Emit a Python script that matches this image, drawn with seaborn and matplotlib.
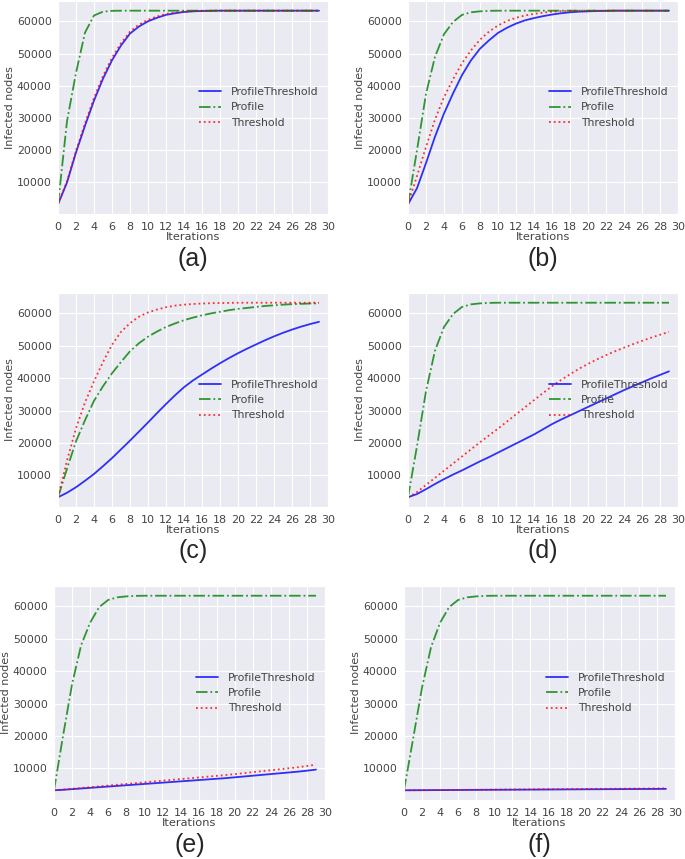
import numpy as np
import pandas as pd
import matplotlib
matplotlib.use('Agg')
import matplotlib.pyplot as plt
import seaborn as sns

# Iterations 0..29 for every panel
iterations = list(range(30))

# (a)
a_profile_threshold = [3200, 10000, 19300, 27600, 35400, 42200, 47900, 52500, 56200, 58400,
                       60000, 61100, 62000, 62500, 62900, 63100, 63200, 63250, 63300, 63300,
                       63300, 63300, 63300, 63300, 63300, 63300, 63300, 63300, 63300, 63300]
a_profile = [3200, 29000, 44000, 56500, 61800, 63000, 63250, 63300, 63300, 63300,
             63300, 63300, 63300, 63300, 63300, 63300, 63300, 63300, 63300, 63300,
             63300, 63300, 63300, 63300, 63300, 63300, 63300, 63300, 63300, 63300]
a_threshold = [3200, 10300, 19800, 28300, 36200, 43000, 48700, 53200, 56800, 59000,
               60500, 61500, 62300, 62700, 63000, 63150, 63250, 63300, 63300, 63300,
               63300, 63300, 63300, 63300, 63300, 63300, 63300, 63300, 63300, 63300]

# (b)
b_profile_threshold = [3200, 8200, 16000, 24200, 31400, 37600, 43300, 47900, 51500, 54100,
                       56400, 58000, 59300, 60300, 61000, 61600, 62100, 62500, 62800, 63000,
                       63100, 63200, 63250, 63300, 63300, 63300, 63300, 63300, 63300, 63300]
b_profile = [3200, 20000, 37500, 49000, 56000, 59800, 62000, 62800, 63100, 63250,
             63300, 63300, 63300, 63300, 63300, 63300, 63300, 63300, 63300, 63300,
             63300, 63300, 63300, 63300, 63300, 63300, 63300, 63300, 63300, 63300]
b_threshold = [3200, 12000, 21000, 29500, 36500, 42000, 47000, 51000, 54300, 56800,
               58700, 60100, 61100, 61800, 62300, 62700, 63000, 63150, 63250, 63300,
               63300, 63300, 63300, 63300, 63300, 63300, 63300, 63300, 63300, 63300]

# (c)
c_profile_threshold = [3200, 4600, 6300, 8300, 10400, 12800, 15300, 18000, 20700, 23500,
                       26300, 29200, 32000, 34700, 37200, 39300, 41100, 42900, 44600, 46200,
                       47700, 49100, 50400, 51700, 52900, 54000, 55000, 55900, 56700, 57400]
c_profile = [3200, 12000, 20500, 27000, 33000, 37500, 41500, 45000, 48300, 50800,
             52800, 54400, 55800, 56900, 57900, 58700, 59400, 60000, 60500, 61000,
             61400, 61700, 62000, 62300, 62500, 62700, 62850, 62950, 63050, 63100]
c_threshold = [3200, 14500, 24500, 32500, 39000, 45000, 50300, 54300, 57000, 59000,
               60300, 61200, 61900, 62400, 62700, 62900, 63050, 63150, 63200, 63250,
               63300, 63300, 63300, 63300, 63300, 63300, 63300, 63300, 63300, 63300]

# (d)
d_profile_threshold = [3200, 4200, 5700, 7300, 8800, 10200, 11500, 12900, 14300, 15600,
                       17000, 18400, 19800, 21200, 22600, 24200, 25800, 27200, 28500, 29800,
                       31100, 32400, 33700, 35000, 36300, 37500, 38700, 39900, 41000, 42100]
d_profile = [3200, 19000, 36000, 48500, 55800, 59800, 62000, 62800, 63100, 63250,
             63300, 63300, 63300, 63300, 63300, 63300, 63300, 63300, 63300, 63300,
             63300, 63300, 63300, 63300, 63300, 63300, 63300, 63300, 63300, 63300]
d_threshold = [3200, 4800, 7000, 9200, 11400, 13600, 15800, 18000, 20200, 22300,
               24400, 26600, 28800, 31000, 33200, 35400, 37500, 39400, 41200, 42900,
               44400, 45800, 47100, 48300, 49400, 50500, 51500, 52500, 53400, 54300]

# (e)
e_profile_threshold = [3200, 3350, 3550, 3750, 3950, 4150, 4350, 4550, 4750, 4950,
                       5150, 5350, 5550, 5750, 5950, 6150, 6350, 6550, 6750, 6950,
                       7200, 7450, 7700, 7950, 8200, 8450, 8700, 8950, 9250, 9600]
e_profile = [3200, 20000, 36000, 48000, 55000, 59800, 62000, 62800, 63100, 63250,
             63300, 63300, 63300, 63300, 63300, 63300, 63300, 63300, 63300, 63300,
             63300, 63300, 63300, 63300, 63300, 63300, 63300, 63300, 63300, 63300]
e_threshold = [3200, 3400, 3650, 3900, 4150, 4400, 4650, 4900, 5150, 5400,
               5650, 5900, 6150, 6400, 6650, 6900, 7150, 7400, 7650, 7900,
               8200, 8500, 8800, 9100, 9400, 9700, 10000, 10300, 10700, 11100]

# (f)
f_profile_threshold = [3200, 3215, 3230, 3245, 3260, 3275, 3290, 3305, 3320, 3335,
                       3350, 3365, 3380, 3395, 3410, 3425, 3440, 3455, 3470, 3485,
                       3500, 3515, 3530, 3545, 3560, 3575, 3590, 3605, 3620, 3635]
f_profile = [3200, 19000, 35000, 47500, 55000, 59800, 62000, 62800, 63100, 63250,
             63300, 63300, 63300, 63300, 63300, 63300, 63300, 63300, 63300, 63300,
             63300, 63300, 63300, 63300, 63300, 63300, 63300, 63300, 63300, 63300]
f_threshold = [3200, 3220, 3240, 3260, 3280, 3300, 3320, 3340, 3360, 3380,
               3400, 3420, 3440, 3460, 3480, 3500, 3520, 3540, 3560, 3580,
               3600, 3620, 3640, 3660, 3680, 3700, 3720, 3740, 3760, 3780]

panel_labels = ['(a)', '(b)', '(c)', '(d)', '(e)', '(f)']
panels = [
    (a_profile_threshold, a_profile, a_threshold),
    (b_profile_threshold, b_profile, b_threshold),
    (c_profile_threshold, c_profile, c_threshold),
    (d_profile_threshold, d_profile, d_threshold),
    (e_profile_threshold, e_profile, e_threshold),
    (f_profile_threshold, f_profile, f_threshold),
]
series_names = ['ProfileThreshold', 'Profile', 'Threshold']
series_colors = ['blue', 'green', 'red']
series_styles = ['-', '-.', ':']

sns.set_style('darkgrid')
plt.rcParams['font.family'] = ['DejaVu Sans']

fig = plt.figure(figsize=(6.85, 8.59), dpi=100)
W, H = 685.0, 859.0

# axes boxes in pixels: left, top, right, bottom
boxes = [
    (58, 1, 328, 214), (408, 1, 678, 214),
    (58, 293, 328, 507), (408, 293, 678, 507),
    (54, 586, 325, 800), (404, 586, 675, 800),
]
label_y = [259, 259, 551, 551, 845, 845]

for i, (box, data) in enumerate(zip(boxes, panels)):
    l, t, r, b = box
    ax = fig.add_axes([l / W, 1 - b / H, (r - l) / W, (b - t) / H])
    for vals, name, col, ls in zip(data, series_names, series_colors, series_styles):
        sns.lineplot(x=iterations, y=vals, ax=ax, color=col, linestyle=ls,
                     linewidth=1.3, alpha=0.8, label=name)
    ax.set_xlim(0, 30)
    ax.set_xticks(range(0, 31, 2))
    ax.set_xlabel('Iterations', fontsize=8.2, color='#444444', labelpad=0.5)
    ax.set_ylabel('Infected nodes', fontsize=8, color='#444444', labelpad=1.5)
    ax.tick_params(axis='x', labelsize=8, colors='#444444', pad=2)
    ax.tick_params(axis='y', labelsize=7.8, colors='#444444', pad=1)
    ax.legend(loc='center right', frameon=False, fontsize=7.8, handlelength=2.0,
              handletextpad=0.9, labelspacing=0.5, labelcolor='#444444')
    fig.text(((l + r) / 2) / W, 1 - label_y[i] / H, panel_labels[i],
             ha='center', va='center', fontsize=18, family='Liberation Sans')

fig.savefig('out.png', dpi=100)
